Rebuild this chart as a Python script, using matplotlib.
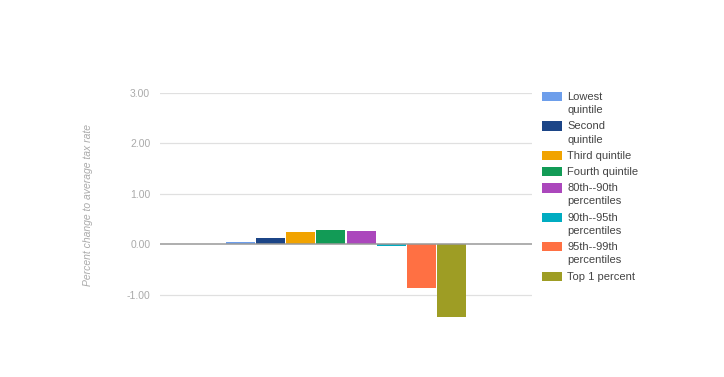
import numpy as np
import matplotlib.pyplot as plt
from matplotlib.patches import Patch

plt.rcParams['font.family'] = ['Liberation Sans', 'DejaVu Sans']

groups = ['Lowest\nquintile', 'Second\nquintile', 'Third quintile', 'Fourth quintile',
          '80th--90th\npercentiles', '90th--95th\npercentiles',
          '95th--99th\npercentiles', 'Top 1 percent']
values = [0.04, 0.12, 0.24, 0.28, 0.26, -0.04, -0.86, -1.44]
colors = ['#6d9eeb', '#1c4587', '#f1a300', '#129b56',
          '#ab47bc', '#00acc1', '#ff7043', '#9e9d24']
yticks = [-1.0, 0.0, 1.0, 2.0, 3.0]

fig = plt.figure(figsize=(7.24, 3.77), dpi=100)
ax = fig.add_axes([160 / 724, 59 / 377, 372 / 724, 225 / 377])

group_w = 0.65
n = len(values)
bw = group_w / n
x = -group_w / 2 + bw * (np.arange(n) + 0.5)
ax.bar(x, values, width=bw * 0.965, color=colors, zorder=3)

ax.set_xlim(-0.5, 0.5)
ax.set_ylim(-1.46, 3.0)
ax.set_yticks(yticks)
ax.set_yticklabels([f'{v:.2f}' for v in yticks])
ax.tick_params(axis='y', length=0, pad=7, labelsize=7.5, labelcolor='#aaaaaa')
ax.set_xticks([])
for v in yticks:
    if v != 0:
        ax.axhline(v, color='#e0e0e0', lw=0.9, zorder=1)
ax.axhline(0, color='#999999', lw=1.1, zorder=4)
for s in ax.spines.values():
    s.set_visible(False)

ax.set_ylabel('Percent change to average tax rate', fontsize=7.5, color='#aaaaaa',
              style='italic', labelpad=24)

handles = [Patch(facecolor=c, edgecolor='none') for c in colors]
leg = fig.legend(handles, groups, loc='upper left', bbox_to_anchor=(542 / 724, 1 - 92 / 377),
                 frameon=False, fontsize=8, labelcolor='#444444', handlelength=1.8,
                 handleheight=0.9, handletextpad=0.45, labelspacing=0.56, borderaxespad=0,
                 borderpad=0)
for t in leg.get_texts():
    t.set_linespacing(1.4)
# put the colour box next to the first line of a two-line label
for col in leg._legend_handle_box.get_children():
    for row in col.get_children():
        row.align = 'top'

fig.savefig('out.png', dpi=100)
